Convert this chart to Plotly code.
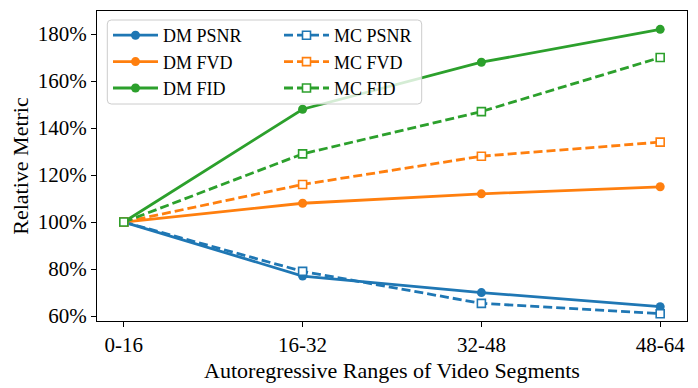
import plotly.graph_objects as go

segments = ["0-16", "16-32", "32-48", "48-64"]
dm_psnr = [100, 77, 70, 64]
dm_fvd = [100, 108, 112, 115]
dm_fid = [100, 148, 168, 182]
mc_psnr = [100, 79, 65.4, 61]
mc_fvd = [100, 116, 128, 134]
mc_fid = [100, 129, 147, 170]
y_ticks = [60, 80, 100, 120, 140, 160, 180]

blue, orange, green = "#1f77b4", "#ff7f0e", "#2ca02c"
font = "Liberation Serif"
xs = list(range(len(segments)))

fig = go.Figure()

def solid(name, y, color):
    fig.add_trace(go.Scatter(
        x=xs, y=y, name=name, mode="lines+markers", legend="legend",
        line=dict(color=color, width=2.8),
        marker=dict(symbol="circle", size=9, color=color),
    ))

def dashed(name, y, color):
    fig.add_trace(go.Scatter(
        x=xs, y=y, name=name, mode="lines+markers", legend="legend2",
        line=dict(color=color, width=2.8, dash="9px,4px"),
        marker=dict(symbol="square", size=8, color="white",
                    line=dict(color=color, width=1.6)),
    ))

solid("DM PSNR", dm_psnr, blue)
solid("DM FVD", dm_fvd, orange)
solid("DM FID", dm_fid, green)
dashed("MC PSNR", mc_psnr, blue)
dashed("MC FVD", mc_fvd, orange)
dashed("MC FID", mc_fid, green)

# the page body has an 8px margin, so the figure is shifted by 8px
W, H = 690, 380
ml, mr, mt, mb = 89, 11, 3, 67
pw, ph = W - ml - mr, H - mt - mb

def px(x):
    return (x - 8 - ml) / pw

def py(y):
    return 1 - (y - 8 - mt) / ph

# legend frame (matplotlib style: rounded, semi transparent)
x0, x1, y0, y1 = px(107.3), px(421.7), py(104), py(20)
rx, ry = 4 / pw, 4 / ph
path = (f"M{x0+rx},{y0} L{x1-rx},{y0} Q{x1},{y0} {x1},{y0+ry} "
        f"L{x1},{y1-ry} Q{x1},{y1} {x1-rx},{y1} L{x0+rx},{y1} "
        f"Q{x0},{y1} {x0},{y1-ry} L{x0},{y0+ry} Q{x0},{y0} {x0+rx},{y0} Z")
fig.add_shape(type="path", path=path, xref="paper", yref="paper", layer="above",
              fillcolor="rgba(255,255,255,0.8)", line=dict(color="#cccccc", width=1))

leg = dict(font=dict(family=font, size=18, color="black"), bgcolor="rgba(0,0,0,0)",
           borderwidth=0, itemwidth=45, tracegroupgap=0,
           xanchor="left", yanchor="top", y=py(17))

fig.update_layout(
    width=W, height=H,
    margin=dict(l=ml, r=mr, t=mt, b=mb),
    paper_bgcolor="white", plot_bgcolor="white",
    font=dict(family=font, size=21, color="black"),
    showlegend=True,
    legend=dict(leg, x=px(108)),
    legend2=dict(leg, x=px(279)),
    xaxis=dict(
        range=[-0.15, 3.15], tickmode="array", tickvals=xs, ticktext=segments,
        showgrid=False, zeroline=False, showline=True, mirror=True,
        linecolor="black", linewidth=1.1, ticks="outside", ticklen=5,
        tickwidth=1.1, tickcolor="black", tickfont=dict(family=font, size=21),
        title=dict(text="Autoregressive Ranges of Video Segments", standoff=6,
                   font=dict(family=font, size=22)),
    ),
    yaxis=dict(
        range=[57.9, 189.8], tickmode="array", tickvals=y_ticks,
        ticktext=[f"{v}%" for v in y_ticks], showgrid=False, zeroline=False,
        showline=True, mirror=True, linecolor="black", linewidth=1.1,
        ticks="outside", ticklen=5, tickwidth=1.1, tickcolor="black",
        tickfont=dict(family=font, size=21),
        title=dict(text="Relative Metric", standoff=9,
                   font=dict(family=font, size=22)),
    ),
)

fig.write_html("out.html")
